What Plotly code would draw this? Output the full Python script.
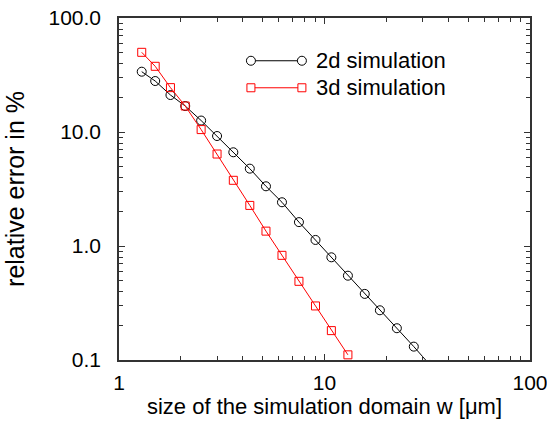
import plotly.graph_objects as go

# data
w_2d = [1.29, 1.50, 1.78, 2.10, 2.51, 3.00, 3.60, 4.33, 5.19, 6.21, 7.51, 9.04,
        10.8, 13.0, 15.7, 18.6, 22.5, 27.2, 32.6]
err_2d = [33.8, 28.0, 21.1, 16.9, 12.6, 9.22, 6.64, 4.77, 3.34, 2.42, 1.62, 1.13,
          0.796, 0.549, 0.380, 0.273, 0.190, 0.131, 0.0906]

w_3d = [1.29, 1.50, 1.78, 2.10, 2.51, 3.00, 3.60, 4.33, 5.19, 6.21, 7.51, 9.04,
        10.8, 13.0]
err_3d = [50.0, 37.7, 24.5, 16.9, 10.5, 6.41, 3.77, 2.27, 1.35, 0.828, 0.490,
          0.298, 0.181, 0.111]

x_ticks = [1, 10, 100]
x_ticktext = ["1", "10", "100"]
x_minor = [2, 3, 4, 5, 6, 7, 8, 9, 20, 30, 40, 50, 60, 70, 80, 90]
y_ticks = [0.1, 1, 10, 100]
y_ticktext = ["0.1", "1.0", "10.0", "100.0"]
y_minor = [0.2, 0.3, 0.4, 0.5, 0.6, 0.7, 0.8, 0.9, 2, 3, 4, 5, 6, 7, 8, 9,
           20, 30, 40, 50, 60, 70, 80, 90]

labels = ["2d simulation", "3d simulation"]

FONT = "Liberation Sans, Arial, sans-serif"

fig = go.Figure()
fig.add_trace(go.Scatter(
    x=w_2d, y=err_2d, mode="lines+markers", name=labels[0],
    line=dict(color="black", width=1),
    marker=dict(symbol="circle-open", size=9, color="black", line=dict(width=1)),
    showlegend=False))
fig.add_trace(go.Scatter(
    x=w_3d, y=err_3d, mode="lines+markers", name=labels[1],
    line=dict(color="#ff0000", width=1),
    marker=dict(symbol="square-open", size=8, color="#ff0000", line=dict(width=1)),
    showlegend=False))

axis_common = dict(
    type="log", showgrid=False, zeroline=False, automargin=False,
    showline=True, linecolor="#333", linewidth=1.5, mirror="allticks",
    ticks="inside", ticklen=6, tickwidth=1, tickcolor="#333",
    ticklabeloverflow="allow",
    tickfont=dict(family=FONT, size=21, color="black"),
)

fig.update_xaxes(**axis_common, range=[0, 2], tickvals=x_ticks, ticktext=x_ticktext,
                 minor=dict(tickvals=x_minor, ticks="inside", ticklen=4, tickcolor="#333"),
                 ticklabelstandoff=3,
                 title=dict(text="size of the simulation domain w [μm]",
                            font=dict(family=FONT, size=22, color="black"), standoff=3))
fig.update_yaxes(**axis_common, range=[-1, 2], tickvals=y_ticks, ticktext=y_ticktext,
                 minor=dict(tickvals=y_minor, ticks="inside", ticklen=4, tickcolor="#333"),
                 ticklabelstandoff=12,
                 title=dict(text="relative error in %",
                            font=dict(family=FONT, size=25, color="black"), standoff=17))

# manual legend (sample line with a marker at each end)
legend_rows = [
    dict(y=0.875, color="black", shape="circle", text=labels[0]),
    dict(y=0.796, color="#ff0000", shape="rect", text=labels[1]),
]
x_start, x_end, x_text = 0.321, 0.445, 0.474
shapes = []
annotations = []
for row in legend_rows:
    shapes.append(dict(type="line", xref="paper", yref="paper",
                       x0=x_start, x1=x_end, y0=row["y"], y1=row["y"],
                       line=dict(color=row["color"], width=1)))
    r = 4.5 if row["shape"] == "circle" else 4
    for xa in (x_start, x_end):
        shapes.append(dict(type=row["shape"], xref="paper", yref="paper",
                           xsizemode="pixel", ysizemode="pixel",
                           xanchor=xa, yanchor=row["y"],
                           x0=-r, x1=r, y0=-r, y1=r,
                           fillcolor="white",
                           line=dict(color=row["color"], width=1)))
    annotations.append(dict(xref="paper", yref="paper", x=x_text, y=row["y"],
                            text=row["text"], showarrow=False,
                            xanchor="left", yanchor="middle",
                            font=dict(family=FONT, size=22, color="black")))

fig.update_layout(
    width=547, height=423,
    margin=dict(l=119, r=17, t=18, b=63, autoexpand=False),
    paper_bgcolor="white", plot_bgcolor="white",
    shapes=shapes, annotations=annotations,
    font=dict(family=FONT, color="black"),
)

# remove the default page margin so the figure sits at the window's corner
fig.write_html("out.html", config={"displayModeBar": False},
               post_script="document.body.style.margin = '0px';")
